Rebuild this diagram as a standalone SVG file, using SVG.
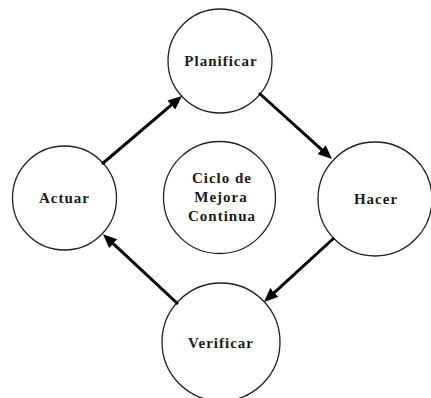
<svg xmlns="http://www.w3.org/2000/svg" width="431" height="398" viewBox="0 0 431 398">
<style>
.node circle{fill:#fff;stroke:#222;stroke-width:1.3}
.node text{font-family:"Liberation Serif","Times New Roman",serif;font-weight:bold;font-size:15px;letter-spacing:1px;fill:#1a1a1a;text-anchor:middle}
.conn line{stroke:#000;stroke-width:3}
</style>
<defs>
<marker id="ah" markerUnits="userSpaceOnUse" markerWidth="14" markerHeight="12" refX="6" refY="6" orient="auto">
<path d="M0,0 L14,6 L0,12 z" fill="#000"/>
</marker>
</defs>
<rect width="431" height="398" fill="#fff"/>
<g id="node-planificar" class="node">
<circle cx="220" cy="61" r="52"/>
<text x="221" y="66">Planificar</text>
</g>
<g id="node-actuar" class="node">
<circle cx="64.5" cy="198" r="52"/>
<text x="64.5" y="203">Actuar</text>
</g>
<g id="node-hacer" class="node">
<circle cx="375" cy="199" r="57"/>
<text x="376" y="204">Hacer</text>
</g>
<g id="node-verificar" class="node">
<circle cx="221" cy="342" r="59"/>
<text x="221" y="348">Verificar</text>
</g>
<g id="node-ciclo" class="node">
<circle cx="219.5" cy="197.5" r="56"/>
<text x="222" y="183">Ciclo de</text>
<text x="221" y="202">Mejora</text>
<text x="222" y="221">Continua</text>
</g>
<g id="connectors" class="conn">
<line x1="102" y1="164" x2="175.9" y2="101.2" marker-end="url(#ah)"/>
<line x1="259" y1="93" x2="326.1" y2="153.6" marker-end="url(#ah)"/>
<line x1="334" y1="238" x2="269.9" y2="296.6" marker-end="url(#ah)"/>
<line x1="178" y1="304" x2="108.9" y2="239.6" marker-end="url(#ah)"/>
</g>
</svg>
